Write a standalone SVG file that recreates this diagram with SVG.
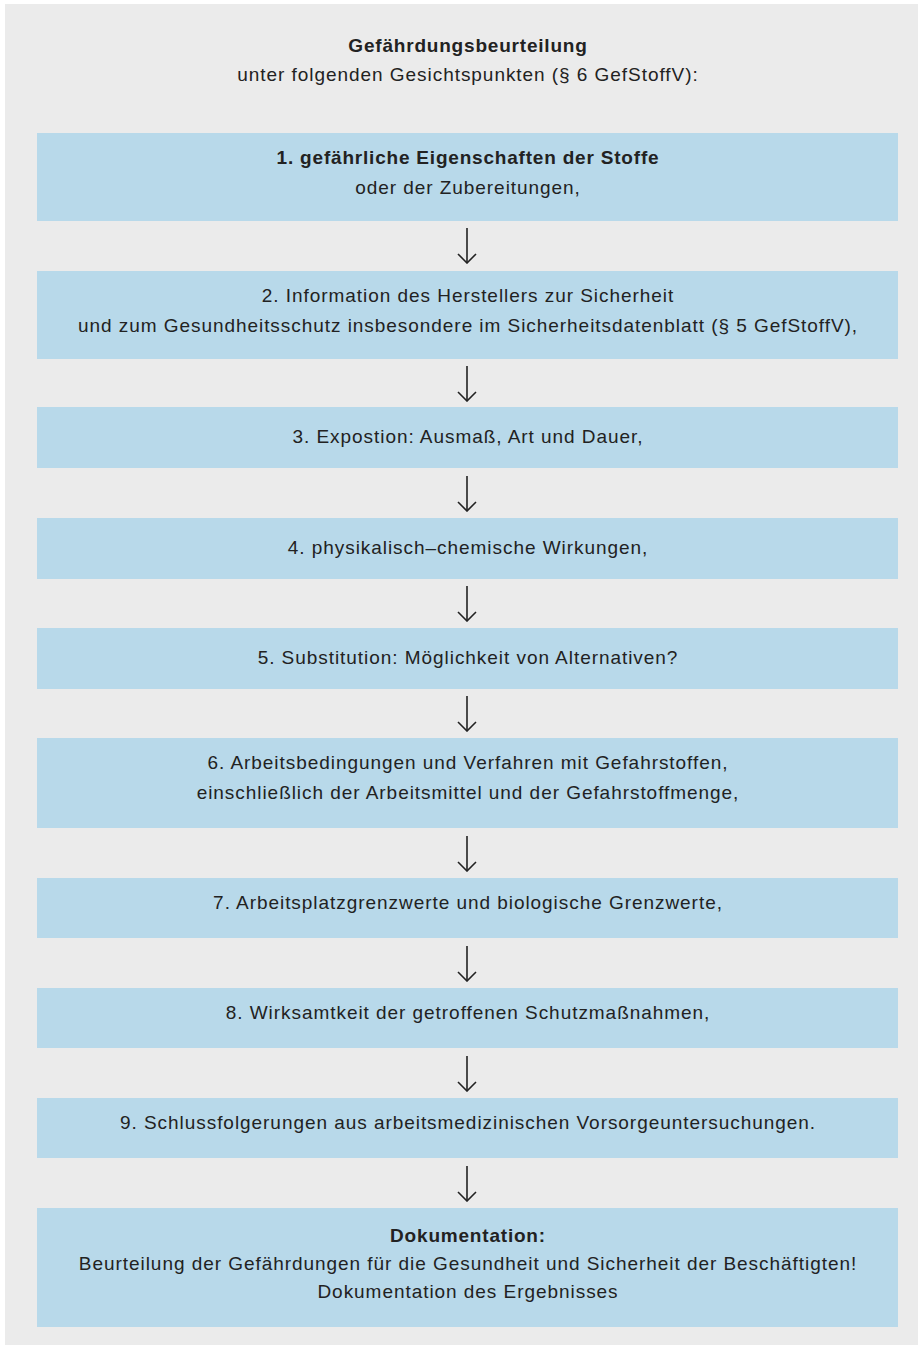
<svg xmlns="http://www.w3.org/2000/svg" width="923" height="1349" viewBox="0 0 923 1349">
<defs>
<style>
.bg{fill:#ebebeb}
.box{fill:#b8d9ea}
text{font-family:"Liberation Sans",Arial,sans-serif;font-size:19px;letter-spacing:0.95px;fill:#222;text-anchor:middle}
.b{font-weight:bold;letter-spacing:0.8px}
.arr{stroke:#222;stroke-width:1.6;fill:none}
</style>
<marker id="ah" viewBox="0 0 12 20" refX="11" refY="10" markerWidth="12" markerHeight="20" markerUnits="userSpaceOnUse" orient="auto">
<path d="M2,1 L11,10 L2,19" fill="none" stroke="#222" stroke-width="1.6"/>
</marker>
</defs>
<rect width="923" height="1349" fill="#ffffff"/>
<rect class="bg" x="5" y="4" width="913" height="1341"/>
<g id="title">
<text class="b" x="468" y="52">Gefährdungsbeurteilung</text>
<text x="468" y="81">unter folgenden Gesichtspunkten (§ 6 GefStoffV):</text>
</g>
<g id="n1"><rect class="box" x="37" y="133" width="861" height="88"/>
<text class="b" x="468" y="164">1. gefährliche Eigenschaften der Stoffe</text>
<text x="468" y="194">oder der Zubereitungen,</text></g>
<g id="n2"><rect class="box" x="37" y="271" width="861" height="88"/>
<text x="468" y="302">2. Information des Herstellers zur Sicherheit</text>
<text x="468" y="332">und zum Gesundheitsschutz insbesondere im Sicherheitsdatenblatt (§ 5 GefStoffV),</text></g>
<g id="n3"><rect class="box" x="37" y="407" width="861" height="61"/>
<text x="468" y="443">3. Expostion: Ausmaß, Art und Dauer,</text></g>
<g id="n4"><rect class="box" x="37" y="518" width="861" height="61"/>
<text x="468" y="554">4. physikalisch–chemische Wirkungen,</text></g>
<g id="n5"><rect class="box" x="37" y="628" width="861" height="61"/>
<text x="468" y="664">5. Substitution: Möglichkeit von Alternativen?</text></g>
<g id="n6"><rect class="box" x="37" y="738" width="861" height="90"/>
<text x="468" y="769">6. Arbeitsbedingungen und Verfahren mit Gefahrstoffen,</text>
<text x="468" y="799">einschließlich der Arbeitsmittel und der Gefahrstoffmenge,</text></g>
<g id="n7"><rect class="box" x="37" y="878" width="861" height="60"/>
<text x="468" y="909">7. Arbeitsplatzgrenzwerte und biologische Grenzwerte,</text></g>
<g id="n8"><rect class="box" x="37" y="988" width="861" height="60"/>
<text x="468" y="1019">8. Wirksamtkeit der getroffenen Schutzmaßnahmen,</text></g>
<g id="n9"><rect class="box" x="37" y="1098" width="861" height="60"/>
<text x="468" y="1129">9. Schlussfolgerungen aus arbeitsmedizinischen Vorsorgeuntersuchungen.</text></g>
<g id="n10"><rect class="box" x="37" y="1208" width="861" height="119"/>
<text class="b" x="468" y="1242">Dokumentation:</text>
<text x="468" y="1270">Beurteilung der Gefährdungen für die Gesundheit und Sicherheit der Beschäftigten!</text>
<text x="468" y="1298">Dokumentation des Ergebnisses</text></g>
<g id="connectors">
<line class="arr" x1="467" y1="228" x2="467" y2="263" marker-end="url(#ah)"/>
<line class="arr" x1="467" y1="366" x2="467" y2="401" marker-end="url(#ah)"/>
<line class="arr" x1="467" y1="476" x2="467" y2="511" marker-end="url(#ah)"/>
<line class="arr" x1="467" y1="586" x2="467" y2="621" marker-end="url(#ah)"/>
<line class="arr" x1="467" y1="696" x2="467" y2="731" marker-end="url(#ah)"/>
<line class="arr" x1="467" y1="836" x2="467" y2="871" marker-end="url(#ah)"/>
<line class="arr" x1="467" y1="946" x2="467" y2="981" marker-end="url(#ah)"/>
<line class="arr" x1="467" y1="1056" x2="467" y2="1091" marker-end="url(#ah)"/>
<line class="arr" x1="467" y1="1166" x2="467" y2="1201" marker-end="url(#ah)"/>
</g>
</svg>
